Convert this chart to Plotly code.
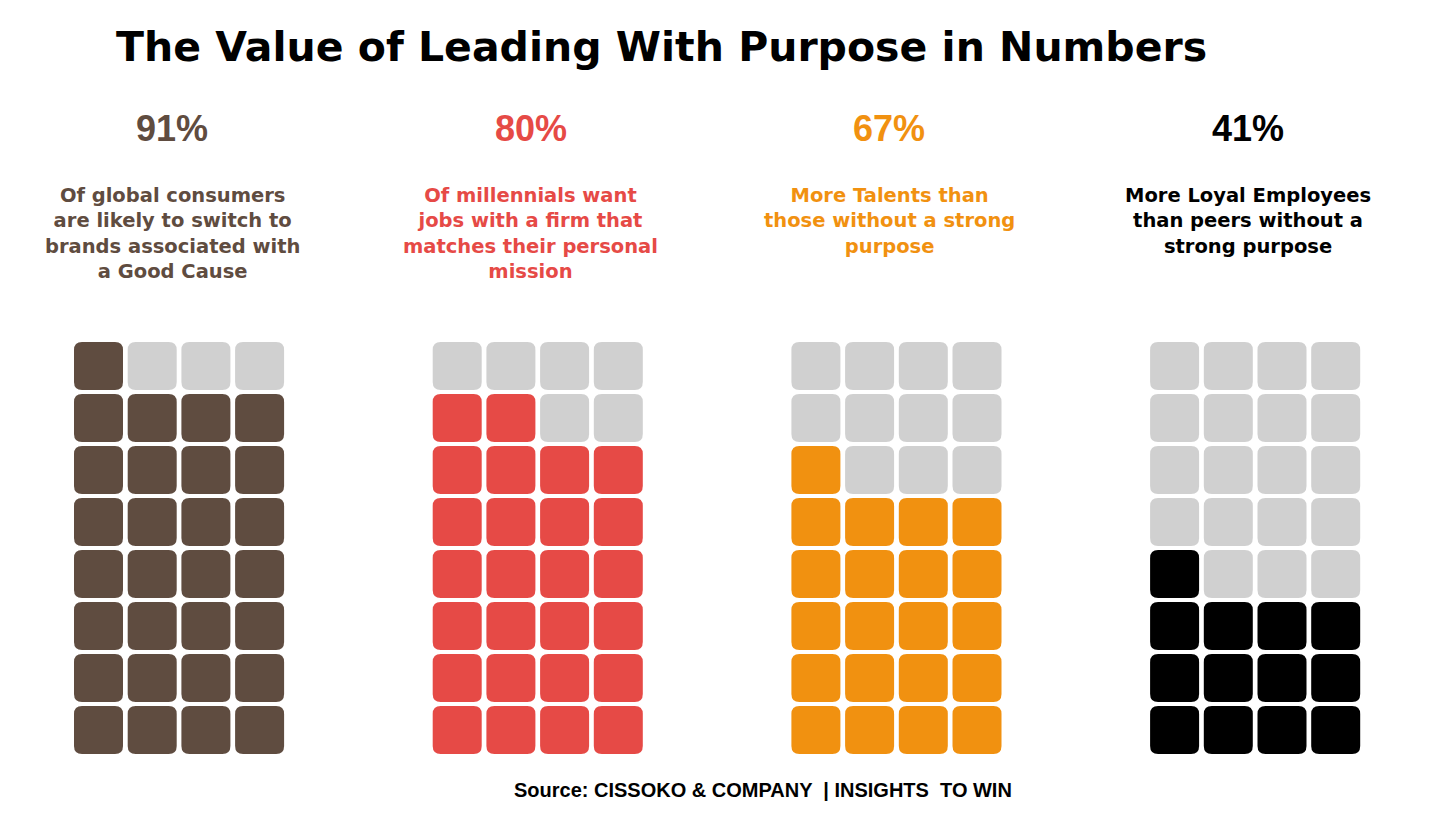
import plotly.graph_objects as go

# ---- data ----
percent_labels = ["91%", "80%", "67%", "41%"]
filled_cells = [29, 26, 21, 13]          # out of 32 cells (4 x 8)
descriptions = [
    "Of global consumers<br>are likely to switch to<br>brands associated with<br>a Good Cause",
    "Of millennials want<br>jobs with a firm that<br>matches their personal<br>mission",
    "More Talents than<br>those without a strong<br>purpose",
    "More Loyal Employees<br>than peers without a<br>strong purpose",
]
group_colors = ["#5f4c40", "#e64a46", "#f19110", "#000000"]
empty_color = "#d0d0d0"
title_text = "The Value of Leading With Purpose in Numbers"
source_text = "Source: CISSOKO & COMPANY \u00a0| INSIGHTS\u00a0 TO WIN"

N_COLS, N_ROWS = 4, 8
W, H = 1440, 816

# ---- layout geometry (pixels -> grid units) ----
col_px, row_px = 53.7, 52.0
group_step = 358.7 / col_px
x0_px, y0_px = 98.5, 730.0       # centre of first cell (bottom-left)
x_lo = -x0_px / col_px
x_hi = x_lo + W / col_px
y_lo = -(H - y0_px) / row_px
y_hi = y_lo + H / row_px
hw, hh = 24.5 / col_px, 24.0 / row_px
rx, ry = 8.0 / col_px, 8.0 / row_px


def rounded_rect(cx, cy):
    l, r, b, t = cx - hw, cx + hw, cy - hh, cy + hh
    return (f"M {l+rx},{b} L {r-rx},{b} Q {r},{b} {r},{b+ry} "
            f"L {r},{t-ry} Q {r},{t} {r-rx},{t} L {l+rx},{t} "
            f"Q {l},{t} {l},{t-ry} L {l},{b+ry} Q {l},{b} {l+rx},{b} Z")


fig = go.Figure()
shapes = []
for g, n in enumerate(filled_cells):
    for i in range(N_COLS * N_ROWS):
        row, col = divmod(i, N_COLS)
        cx = g * group_step + col
        cy = row
        color = group_colors[g] if i < n else empty_color
        shapes.append(dict(type="path", path=rounded_rect(cx, cy), xref="x", yref="y",
                           fillcolor=color, line=dict(width=0), layer="above"))

# invisible trace so axes exist
fig.add_trace(go.Scatter(x=[x_lo, x_hi], y=[y_lo, y_hi], mode="markers",
                         marker=dict(opacity=0), hoverinfo="skip", showlegend=False))

annotations = []
for g in range(4):
    cx_px = x0_px + g * 358.7 + 1.5 * col_px - 7
    annotations.append(dict(x=cx_px / W, y=1 - 128 / H, xref="paper", yref="paper",
                            text=f"<b>{percent_labels[g]}</b>", showarrow=False,
                            font=dict(family="Liberation Sans, Arial", size=36, color=group_colors[g]),
                            xanchor="center", yanchor="middle"))
    annotations.append(dict(x=cx_px / W, y=1 - 182 / H, xref="paper", yref="paper",
                            text=f"<b>{descriptions[g]}</b>", showarrow=False,
                            font=dict(family="DejaVu Sans", size=19.5, color=group_colors[g]),
                            xanchor="center", yanchor="top", align="center"))

annotations.append(dict(x=661 / W, y=1 - 47 / H, xref="paper", yref="paper",
                        text=f"<b>{title_text}</b>", showarrow=False,
                        font=dict(family="DejaVu Sans", size=41, color="#000000"),
                        xanchor="center", yanchor="middle"))
annotations.append(dict(x=763 / W, y=1 - 790 / H, xref="paper", yref="paper",
                        text=f"<b>{source_text}</b>", showarrow=False,
                        font=dict(family="Liberation Sans, Arial", size=20, color="#000000"),
                        xanchor="center", yanchor="middle"))

fig.update_layout(
    width=W, height=H,
    margin=dict(l=0, r=0, t=0, b=0),
    paper_bgcolor="white", plot_bgcolor="white",
    xaxis=dict(range=[x_lo, x_hi], visible=False, fixedrange=True),
    yaxis=dict(range=[y_lo, y_hi], visible=False, fixedrange=True),
    shapes=shapes, annotations=annotations,
    showlegend=False,
)
fig.write_html("out.html")
